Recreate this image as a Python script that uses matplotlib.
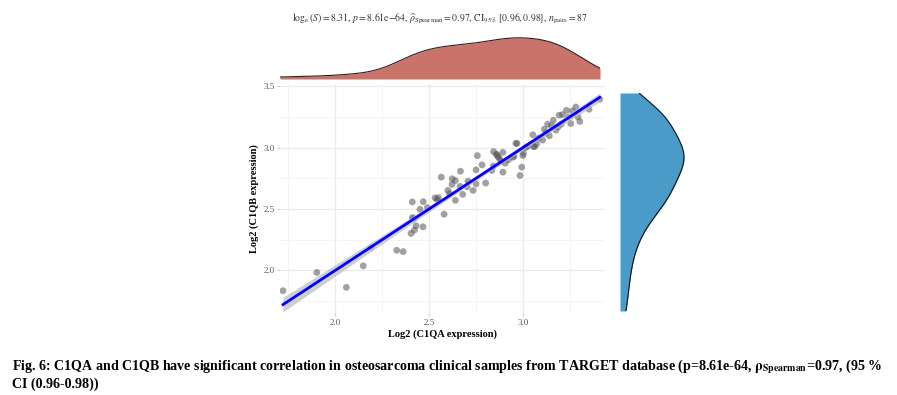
import matplotlib.pyplot as plt
import numpy as np

# values
c1qa = [1.721, 1.901, 2.058, 2.148, 2.189, 2.326, 2.360, 2.402, 2.420, 2.429,
        2.466, 2.409, 2.416, 2.409, 2.467, 2.450, 2.489, 2.541, 2.548, 2.563,
        2.578, 2.598, 2.607, 2.621, 2.638, 2.665, 2.638, 2.663, 2.677, 2.705,
        2.732, 2.748, 2.755, 2.748, 2.799, 2.832, 2.841, 2.855, 2.864, 2.873,
        2.891, 2.903, 2.891, 2.960, 2.966, 2.944, 2.982, 2.991, 3.000, 2.997,
        3.023, 3.050, 3.054, 3.060, 3.081, 3.102, 3.111, 3.129, 3.138, 3.159,
        3.173, 3.190, 3.201, 3.229, 3.252, 3.279, 3.290, 3.300, 3.349, 3.406,
        3.208, 3.240, 3.185, 2.860, 2.880, 2.920, 2.950, 2.530, 2.620, 2.700,
        3.070, 3.120, 3.150, 3.260, 2.840, 2.780, 3.010]
c1qb = [1.832, 1.981, 1.859, 2.035, 2.184, 2.162, 2.151, 2.300, 2.327, 2.362,
        2.354, 2.430, 2.420, 2.557, 2.559, 2.497, 2.511, 2.576, 2.592, 2.759,
        2.457, 2.651, 2.624, 2.746, 2.732, 2.808, 2.570, 2.684, 2.619, 2.727,
        2.651, 2.819, 2.935, 2.705, 2.711, 2.814, 2.968, 2.949, 2.927, 2.911,
        2.962, 2.873, 2.800, 3.035, 3.035, 2.922, 2.773, 2.841, 2.954, 2.935,
        3.011, 3.105, 3.008, 3.010, 3.078, 3.062, 3.151, 3.192, 3.097, 3.224,
        3.143, 3.265, 3.192, 3.305, 3.197, 3.332, 3.251, 3.214, 3.314, 3.395,
        3.270, 3.250, 3.170, 2.940, 2.890, 2.900, 2.930, 2.590, 2.700, 2.680,
        3.030, 3.120, 3.180, 3.300, 2.850, 2.860, 3.000]

title_txt = (r"$\log_{\mathrm{e}}(S) = 8.31,\, p = 8.61\mathrm{e}{-64},\, "
             r"\widehat{\rho}_{\mathrm{Spearman}} = 0.97,\, \mathrm{CI}_{95\%}\ [0.96, 0.98],\, "
             r"n_{\mathrm{pairs}} = 87$")
caption1 = (r"Fig. 6: C1QA and C1QB have significant correlation in osteosarcoma clinical samples "
            r"from TARGET database (p=8.61e-64, $\mathbf{\rho}_{\mathbf{Spearman}}$=0.97, (95 %")
caption2 = "CI (0.96-0.98))"

x = np.array(c1qa)
y = np.array(c1qb)

plt.rcParams['font.family'] = 'Liberation Serif'
plt.rcParams['mathtext.fontset'] = 'stix'

fig = plt.figure(figsize=(8.97, 3.95), dpi=100)
W, H = 897, 395


def ax_px(l, t, r, b):
    return fig.add_axes([l / W, 1 - b / H, (r - l) / W, (b - t) / H])


def kde(d, grid):
    d = np.asarray(d)
    sd = d.std(ddof=1)
    iqr = np.subtract(*np.percentile(d, [75, 25]))
    bw = 0.9 * min(sd, iqr / 1.34) * len(d) ** -0.2
    z = (grid[:, None] - d[None, :]) / bw
    return np.exp(-0.5 * z ** 2).sum(1) / (len(d) * bw * np.sqrt(2 * np.pi))


# main scatter
ax = ax_px(280, 84, 605, 313)
ax.set_xlim(1.705, 3.434)
ax.set_ylim(1.65, 3.52)
ax.set_xticks([2.0, 2.5, 3.0])
ax.set_yticks([2.0, 2.5, 3.0, 3.5])
ax.set_xticks([1.75, 2.25, 2.75, 3.25], minor=True)
ax.set_yticks([1.75, 2.25, 2.75, 3.25], minor=True)
ax.grid(True, which='major', color='#ebebeb', lw=0.9)
ax.grid(True, which='minor', color='#f3f3f3', lw=0.6)
ax.set_axisbelow(True)
for s in ax.spines.values():
    s.set_visible(False)
ax.tick_params(which='both', length=2, color='#cccccc', labelsize=6.5, labelcolor='#555555', pad=2)
ax.tick_params(which='minor', length=0)

ax.scatter(x, y, s=24, color='#555555', alpha=0.55, edgecolors='none', zorder=2)

coef = np.polyfit(x, y, 1)
xs = np.linspace(x.min(), x.max(), 100)
ys = np.polyval(coef, xs)
n = len(x)
res = y - np.polyval(coef, x)
se = np.sqrt((res ** 2).sum() / (n - 2))
band = 1.99 * se * np.sqrt(1 / n + (xs - x.mean()) ** 2 / ((x - x.mean()) ** 2).sum())
ax.fill_between(xs, ys - band, ys + band, color='#bbbbbb', alpha=0.7, lw=0, zorder=3)
ax.plot(xs, ys, color='#0000ff', lw=2, zorder=4)

ax.set_xlabel('Log2 (C1QA expression)', fontsize=7.5, fontweight='bold', labelpad=2)
ax.set_ylabel('Log2 (C1QB expression)', fontsize=7.5, fontweight='bold', labelpad=3)

# top marginal density
axt = ax_px(280, 37, 600, 79)
gx = np.linspace(x.min(), x.max(), 300)
dx = kde(x, gx)
axt.fill_between(gx, 0, dx, color='#c9736a', lw=0)
axt.plot(gx, dx, color='#222222', lw=0.8)
axt.set_xlim(gx[0], gx[-1])
axt.set_ylim(0, dx.max() * 1.02)
axt.axis('off')

# right marginal density
axr = ax_px(620, 93, 700, 311)
gy = np.linspace(y.min(), y.max(), 300)
dy = kde(y, gy)
axr.fill_betweenx(gy, 0, dy, color='#4a9bc8', lw=0)
axr.plot(dy, gy, color='#111111', lw=0.8)
axr.set_ylim(gy[0], gy[-1])
axr.set_xlim(0, dy.max() * 1.25)
axr.axis('off')

fig.text(440 / W, 1 - 19 / H, title_txt, fontsize=7, ha='center', va='center', color='#333333')
fig.text(12 / W, 1 - 367 / H, caption1, fontsize=10.1, fontweight='bold', ha='left', va='center')
fig.text(12 / W, 1 - 384 / H, caption2, fontsize=10.1, fontweight='bold', ha='left', va='center')

fig.savefig('out.png', dpi=100)
